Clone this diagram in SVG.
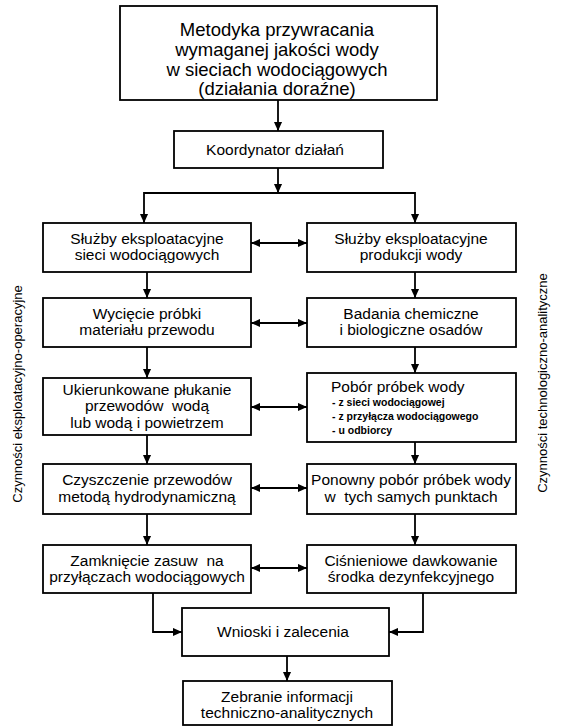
<svg xmlns="http://www.w3.org/2000/svg" width="561" height="727" viewBox="0 0 561 727">
<defs>
<style>
.box{fill:#fff;stroke:#000;stroke-width:1.8}
.t{font-family:"Liberation Sans",Arial,sans-serif;font-size:15.5px;fill:#000;text-anchor:middle;white-space:pre}
.ti{font-family:"Liberation Sans",Arial,sans-serif;font-size:18.5px;fill:#000;text-anchor:middle}
.li{font-family:"Liberation Sans",Arial,sans-serif;font-size:10.5px;font-weight:bold;fill:#000}
.side{font-family:"Liberation Sans",Arial,sans-serif;font-size:13px;fill:#000;text-anchor:middle}
.c{fill:none;stroke:#000;stroke-width:1.8}
.a{marker-end:url(#ah)}
.d{marker-start:url(#ahs);marker-end:url(#ah)}
</style>
<marker id="ah" viewBox="0 0 10 10" refX="10" refY="5" markerWidth="9" markerHeight="9" markerUnits="userSpaceOnUse" orient="auto">
<path d="M0,0.5 L10,5 L0,9.5 Z" fill="#000"/>
</marker>
<marker id="ahs" viewBox="0 0 10 10" refX="0" refY="5" markerWidth="9" markerHeight="9" markerUnits="userSpaceOnUse" orient="auto">
<path d="M10,0.5 L0,5 L10,9.5 Z" fill="#000"/>
</marker>
</defs>
<rect width="561" height="727" fill="#fff"/>

<g id="connectors">
<line class="c a" x1="278" y1="100" x2="278" y2="131"/>
<line class="c a" x1="278" y1="168" x2="278" y2="193"/>
<polyline class="c a" points="279,193 144,193 144,223"/>
<polyline class="c a" points="279,193 415,193 415,223"/>
<line class="c a" x1="147" y1="272" x2="147" y2="298"/>
<line class="c a" x1="147" y1="347" x2="147" y2="378"/>
<line class="c a" x1="147" y1="435" x2="147" y2="464"/>
<line class="c a" x1="147" y1="514" x2="147" y2="545"/>
<line class="c a" x1="415" y1="272" x2="415" y2="298"/>
<line class="c a" x1="415" y1="347" x2="415" y2="373"/>
<line class="c a" x1="415" y1="442" x2="415" y2="464"/>
<line class="c a" x1="415" y1="514" x2="415" y2="545"/>
<line class="c d" x1="251" y1="243" x2="307" y2="243"/>
<line class="c d" x1="251" y1="323" x2="307" y2="323"/>
<line class="c d" x1="251" y1="407" x2="307" y2="407"/>
<line class="c d" x1="251" y1="488" x2="307" y2="488"/>
<line class="c d" x1="251" y1="568" x2="307" y2="568"/>
<polyline class="c a" points="153,593 153,632 182,632"/>
<polyline class="c a" points="423,593 423,632 389,632"/>
<line class="c a" x1="287" y1="656" x2="287" y2="681"/>
</g>

<g id="title">
<rect class="box" x="120" y="6" width="317" height="94"/>
<text class="ti" x="277" y="36">Metodyka przywracania</text>
<text class="ti" x="277" y="56">wymaganej jakości wody</text>
<text class="ti" x="277" y="76">w sieciach wodociągowych</text>
<text class="ti" x="277" y="95">(działania doraźne)</text>
</g>

<g id="koordynator">
<rect class="box" x="174" y="131" width="209" height="37"/>
<text class="t" x="275" y="155">Koordynator działań</text>
</g>

<g id="l1">
<rect class="box" x="43" y="223" width="208" height="49"/>
<text class="t" x="147" y="244">Służby eksploatacyjne</text>
<text class="t" x="147" y="260">sieci wodociągowych</text>
</g>
<g id="r1">
<rect class="box" x="307" y="223" width="209" height="49"/>
<text class="t" x="411" y="244">Służby eksploatacyjne</text>
<text class="t" x="411" y="260">produkcji wody</text>
</g>

<g id="l2">
<rect class="box" x="43" y="298" width="208" height="49"/>
<text class="t" x="147" y="319">Wycięcie próbki</text>
<text class="t" x="147" y="335">materiału przewodu</text>
</g>
<g id="r2">
<rect class="box" x="307" y="298" width="209" height="49"/>
<text class="t" x="411" y="319">Badania chemiczne</text>
<text class="t" x="411" y="335">i biologiczne osadów</text>
</g>

<g id="l3">
<rect class="box" x="43" y="378" width="208" height="57"/>
<text class="t" x="147" y="395">Ukierunkowane płukanie</text>
<text class="t" x="147" y="411" xml:space="preserve">przewodów  wodą</text>
<text class="t" x="147" y="428">lub wodą i powietrzem</text>
</g>
<g id="r3">
<rect class="box" x="307" y="373" width="209" height="69"/>
<text class="t" x="331" y="392" style="text-anchor:start">Pobór próbek wody</text>
<text class="li" x="332" y="406">- z sieci wodociągowej</text>
<text class="li" x="332" y="420">- z przyłącza wodociągowego</text>
<text class="li" x="332" y="434">- u odbiorcy</text>
</g>

<g id="l4">
<rect class="box" x="43" y="464" width="208" height="50"/>
<text class="t" x="147" y="485">Czyszczenie przewodów</text>
<text class="t" x="147" y="502">metodą hydrodynamiczną</text>
</g>
<g id="r4">
<rect class="box" x="307" y="464" width="209" height="50"/>
<text class="t" x="411" y="485">Ponowny pobór próbek wody</text>
<text class="t" x="411" y="502" xml:space="preserve">w  tych samych punktach</text>
</g>

<g id="l5">
<rect class="box" x="43" y="545" width="208" height="48"/>
<text class="t" x="147" y="566" xml:space="preserve">Zamknięcie zasuw  na</text>
<text class="t" x="147" y="582">przyłączach wodociągowych</text>
</g>
<g id="r5">
<rect class="box" x="307" y="545" width="209" height="48"/>
<text class="t" x="411" y="566">Ciśnieniowe dawkowanie</text>
<text class="t" x="411" y="582">środka dezynfekcyjnego</text>
</g>

<g id="wnioski">
<rect class="box" x="182" y="608" width="207" height="48"/>
<text class="t" x="283" y="637">Wnioski i zalecenia</text>
</g>

<g id="zebranie">
<rect class="box" x="183" y="681" width="209" height="44"/>
<text class="t" x="287" y="702">Zebranie informacji</text>
<text class="t" x="287" y="718">techniczno-analitycznych</text>
</g>

<g id="side-left">
<text class="side" transform="translate(22,394) rotate(-90)">Czynności eksploatacyjno-operacyjne</text>
</g>
<g id="side-right">
<text class="side" transform="translate(547,383) rotate(-90)">Czynności technologiczno-analityczne</text>
</g>
</svg>
